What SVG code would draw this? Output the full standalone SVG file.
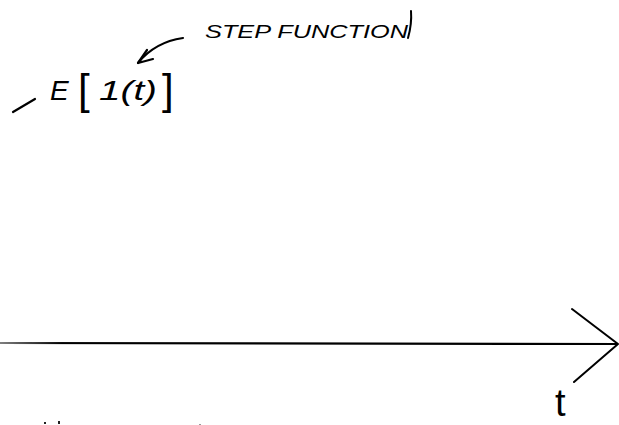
<svg xmlns="http://www.w3.org/2000/svg" width="619" height="425" viewBox="0 0 619 425">
<style>
.hand{font-family:"Liberation Sans",Arial,sans-serif;font-style:italic;fill:#000}
.stroke{fill:none;stroke:#000;stroke-linecap:round;stroke-linejoin:round}
</style>
<defs>
<linearGradient id="fade" x1="0" y1="0" x2="1" y2="0">
<stop offset="0" stop-color="#000" stop-opacity="0.5"/>
<stop offset="0.1" stop-color="#000" stop-opacity="1"/>
</linearGradient>
</defs>
<rect width="619" height="425" fill="#fff"/>
<g id="label-step">
<text class="hand" x="205" y="38" font-size="18" textLength="203" lengthAdjust="spacingAndGlyphs">STEP FUNCTION</text>
<path class="stroke" stroke-width="2" d="M408,38 Q412,24 411,11"/>
</g>
<g id="label-expr">
<path class="stroke" stroke-width="2.2" d="M13,112 L35,99"/>
<text class="hand" y="100"><tspan x="50" font-size="28">E</tspan><tspan x="78" y="104" font-size="42" font-style="normal">[</tspan><tspan x="99" y="100" font-size="28" textLength="58" lengthAdjust="spacingAndGlyphs">1(t)</tspan><tspan x="162" y="104" font-size="42" font-style="normal">]</tspan></text>
</g>
<g id="connectors">
<path class="stroke" stroke-width="2.2" d="M183,38 Q155,42 138,63"/>
<path class="stroke" stroke-width="2.2" d="M147,50 L138,63 L153,59"/>
<path stroke="url(#fade)" stroke-width="2.2" fill="none" d="M0,343 L618,344"/>
<path class="stroke" stroke-width="2" d="M572,309 L618,344 L574,382"/>
</g>
<g id="axis-label">
<text x="555" y="416" font-family="Liberation Sans,Arial,sans-serif" font-size="38" fill="#000">t</text>
</g>
<g id="marks" fill="#222">
<rect x="44" y="422" width="2" height="2"/>
<rect x="58" y="421" width="2" height="3"/>
<rect x="199" y="424" width="2" height="1" fill="#999"/>
</g>
</svg>
